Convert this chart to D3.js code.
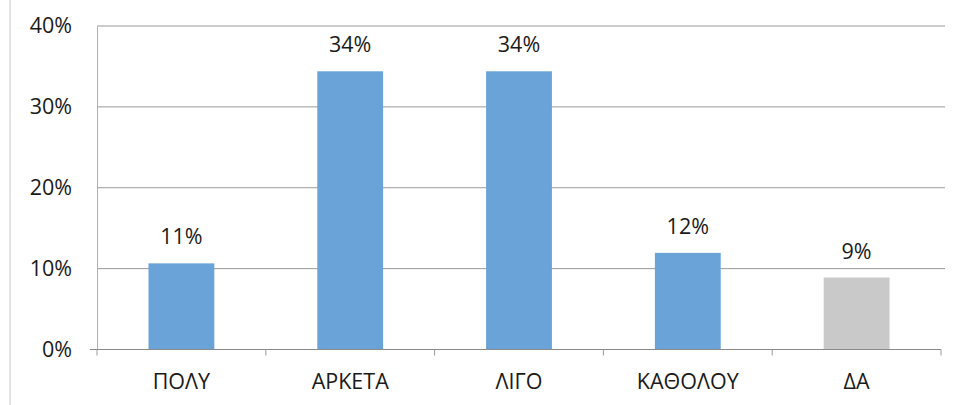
<!DOCTYPE html>
<html><head><meta charset="utf-8">
<script src="https://cdn.jsdelivr.net/npm/d3@7"></script>
<style>body{margin:0;background:#fff;}svg{display:block;font-family:"Open Sans",sans-serif;}</style>
</head><body>
<svg id="c" width="955" height="405"></svg>
<script>
const categories = ["ΠΟΛΥ", "ΑΡΚΕΤΑ", "ΛΙΓΟ", "ΚΑΘΟΛΟΥ", "ΔΑ"];
const values = [10.65, 34.4, 34.4, 11.95, 8.9];
const valueLabels = ["11%", "34%", "34%", "12%", "9%"];
const yTicks = [0, 10, 20, 30, 40];
const barColors = ["#6aa3d8", "#6aa3d8", "#6aa3d8", "#6aa3d8", "#c9c9c9"];

const FS = 21.5;
const svg = d3.select("#c");
const x0 = 97, x1 = 941, yTop = 26, yBot = 349.5;
const x = d3.scaleBand().domain(categories).range([x0, x1]).paddingInner(0.61).paddingOuter(0.305);
const y = d3.scaleLinear().domain([0, 40]).range([yBot, yTop]);

// faint scan border
svg.append("line").attr("x1", 10).attr("x2", 10).attr("y1", 0).attr("y2", 405).attr("stroke", "#d8d8d8").attr("stroke-width", 1.5);

// gridlines
svg.append("g").selectAll("line").data(yTicks.filter(d => d > 0)).join("line")
  .attr("x1", x0).attr("x2", 945).attr("y1", d => y(d)).attr("y2", d => y(d))
  .attr("stroke", "#9a9a9a").attr("stroke-width", 1);

// y axis
const yAxis = d3.axisLeft(y).tickValues(yTicks).tickFormat(d => d + "%").tickSize(0).tickPadding(25);
const gy = svg.append("g").attr("transform", `translate(${x0},0)`).call(yAxis);
gy.attr("font-size", FS).attr("font-family", "'Open Sans',sans-serif");
gy.select(".domain").attr("stroke", "#b0b0b0");
gy.selectAll("text").attr("font-size", FS).attr("fill", "#1a1a1a");
svg.append("line").attr("x1", x0 - 7).attr("x2", x0).attr("y1", y(0)).attr("y2", y(0)).attr("stroke", "#888");

// bars
svg.append("g").selectAll("rect").data(values).join("rect")
  .attr("x", (d, i) => x(categories[i])).attr("width", x.bandwidth())
  .attr("y", d => y(d)).attr("height", d => y(0) - y(d))
  .attr("fill", (d, i) => barColors[i]);

// x axis
const bounds = categories.map(c => x(c) - x.step() * x.paddingInner() / 2).concat([x1]);
svg.append("line").attr("x1", x0).attr("x2", x1).attr("y1", y(0)).attr("y2", y(0)).attr("stroke", "#8a8a8a");
svg.append("g").selectAll("line").data(bounds).join("line")
  .attr("x1", d => d).attr("x2", d => d).attr("y1", y(0)).attr("y2", y(0) + 6).attr("stroke", "#9a9a9a");
svg.append("g").selectAll("text").data(categories).join("text")
  .attr("x", d => x(d) + x.bandwidth() / 2).attr("y", 389)
  .attr("text-anchor", "middle").attr("font-size", FS).attr("fill", "#1a1a1a").text(d => d);

// value labels
svg.append("g").selectAll("text").data(values).join("text")
  .attr("x", (d, i) => x(categories[i]) + x.bandwidth() / 2).attr("y", d => y(d) - 19)
  .attr("text-anchor", "middle").attr("font-size", FS).attr("fill", "#1a1a1a")
  .text((d, i) => valueLabels[i]);
</script>
</body></html>
